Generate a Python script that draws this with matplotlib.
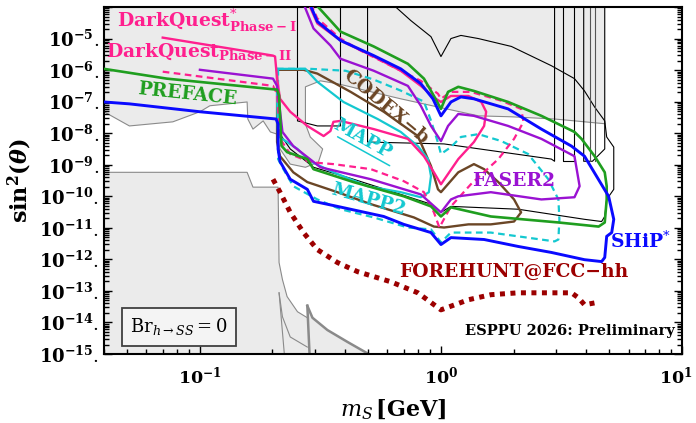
import matplotlib
matplotlib.use('Agg')
import matplotlib.pyplot as plt
import matplotlib.transforms as mtransforms
import numpy as np
from matplotlib.ticker import LogLocator, FuncFormatter, NullFormatter

plt.rcParams['font.family'] = 'DejaVu Serif'
plt.rcParams['mathtext.fontset'] = 'dejavuserif'

# masses in GeV, couplings as log10(sin^2 theta)

# SHiP*
ship_m = [0.040, 0.051, 0.100, 0.207, 0.211, 0.211, 0.215, 0.237, 0.279, 0.296, 0.372, 0.579, 0.701,
          0.909, 1.00, 1.10, 1.51, 2.09, 2.87, 3.94, 4.64, 4.78, 4.87, 5.11, 5.21, 4.96, 3.94, 3.48,
          2.61, 1.90, 1.37, 1.21, 1.10, 1.00, 0.926, 0.825, 0.681, 0.526, 0.383, 0.307, 0.282]
ship_y = [-7.01, -7.07, -7.32, -7.55, -7.71, -8.50, -8.90, -9.46, -9.78, -10.16, -10.32, -10.64, -10.89,
          -11.15, -11.53, -11.31, -11.37, -11.59, -11.78, -12.01, -12.07, -11.94, -11.27, -11.15, -10.73,
          -10.00, -8.73, -8.41, -7.87, -7.23, -6.91, -6.85, -7.01, -7.45, -6.91, -6.43, -5.96, -5.54,
          -5.06, -4.46, -3.80]

# PREFACE
pre_m = [0.040, 0.0729, 0.209, 0.213, 0.218, 0.230, 0.279, 0.296, 0.434, 0.701, 0.909, 1.00, 1.10,
         1.61, 3.07, 4.51, 4.78, 4.87, 4.87, 4.78, 4.34, 3.83, 3.58, 2.61, 1.90, 1.37, 1.18, 1.07,
         1.00, 0.935, 0.850, 0.729, 0.526, 0.383, 0.293]
pre_y = [-5.96, -6.27, -6.62, -6.80, -8.40, -8.60, -8.82, -9.14, -9.55, -10.00, -10.32, -10.64, -10.35,
         -10.64, -10.83, -10.96, -10.83, -10.10, -9.68, -9.24, -8.73, -8.18, -7.96, -7.45, -7.01,
         -6.66, -6.53, -6.69, -7.23, -6.82, -6.27, -5.80, -5.25, -4.78, -3.80]

# FASER2
fas_m = [0.100, 0.201, 0.209, 0.220, 0.244, 0.316, 0.512, 0.825, 1.00, 1.10, 1.18, 1.61, 2.61, 3.58,
         3.76, 3.58, 2.61, 1.90, 1.37, 1.18, 1.07, 1.00, 0.909, 0.825, 0.729, 0.526, 0.383, 0.348,
         0.296, 0.266]
fas_y = [-5.99, -6.27, -6.50, -7.96, -8.41, -9.08, -9.46, -9.94, -10.51, -10.10, -10.00, -9.87, -10.10,
         -10.03, -9.68, -8.73, -8.18, -7.77, -7.45, -7.39, -7.77, -8.25, -7.77, -7.13, -6.50, -6.02,
         -5.64, -5.22, -4.68, -3.80]

# DarkQuest Phase-I (solid)
dq1_m = [0.0701, 0.201, 0.205, 0.209, 0.215, 0.237, 0.279, 0.326, 0.348, 0.358, 0.383, 0.526, 0.729,
         0.850, 0.935, 1.00, 1.18, 1.37, 1.51, 1.54, 1.47, 1.30, 1.10, 1.00, 0.953, 0.825, 0.681,
         0.526, 0.383, 0.307, 0.279]
dq1_y = [-4.97, -5.54, -5.57, -6.27, -6.91, -7.32, -7.77, -8.09, -7.93, -7.64, -7.61, -7.87, -8.18,
         -8.73, -9.24, -9.62, -8.82, -8.28, -7.77, -7.32, -7.01, -6.82, -6.82, -7.01, -6.91, -6.50,
         -6.02, -5.57, -5.06, -4.52, -3.80]

# DarkQuest Phase-II (dashed)
dq2_m = [0.0701, 0.201, 0.209, 0.215, 0.237, 0.287, 0.358, 0.512, 0.701, 0.850, 0.935, 0.985, 1.10,
         1.33, 1.73, 2.01, 2.20, 2.15, 1.78, 1.33, 1.10, 1.00, 0.972, 0.825, 0.464, 0.383, 0.307, 0.285]
dq2_y = [-6.05, -6.50, -6.75, -8.18, -8.66, -8.92, -8.98, -9.14, -9.52, -9.87, -10.51, -10.99, -10.32,
         -9.62, -8.82, -8.18, -7.64, -7.23, -6.97, -6.69, -6.69, -6.91, -6.75, -6.34, -5.38, -5.00,
         -4.36, -3.80]

# MAPP (solid cyan)
mapp_m = [0.209, 0.209, 0.211, 0.230, 0.254, 0.287, 0.358, 0.496, 0.681, 0.825, 0.891, 0.909, 0.883,
          0.802, 0.681, 0.546, 0.394, 0.307, 0.274, 0.209]
mapp_y = [-5.96, -6.91, -8.09, -8.28, -8.50, -8.89, -9.24, -9.68, -9.87, -10.03, -9.87, -9.36, -8.82,
          -8.41, -7.96, -7.55, -7.01, -6.37, -5.96, -5.96]

# MAPP2 (dashed cyan)
mapp2_m = [0.211, 0.211, 0.222, 0.244, 0.307, 0.383, 0.526, 0.729, 0.909, 1.00, 1.10, 1.61, 2.96, 3.07,
           3.10, 3.07, 2.79, 2.30, 1.78, 1.43, 1.21, 1.10, 1.00, 0.972, 0.909, 0.850, 0.681, 0.526,
           0.402, 0.287, 0.211]
mapp2_y = [-5.96, -8.82, -9.14, -9.68, -10.10, -10.41, -10.67, -10.99, -11.05, -11.46, -11.15, -11.15,
           -11.43, -11.37, -10.73, -10.10, -9.46, -8.66, -8.25, -8.03, -8.12, -8.44, -8.66, -8.30,
           -7.60, -7.00, -6.65, -6.30, -6.02, -5.96, -5.96]

# CODEX-b
codex_m = [0.209, 0.269, 0.307, 0.422, 0.579, 0.802, 0.909, 0.972, 1.00, 1.18, 1.37, 1.51, 1.73, 2.01,
           2.15, 2.01, 1.61, 1.30, 1.03, 0.935, 0.772, 0.512, 0.372, 0.279, 0.244, 0.215, 0.209, 0.209]
codex_y = [-5.99, -5.99, -6.11, -6.69, -7.32, -8.09, -9.04, -9.78, -9.87, -9.24, -8.98, -9.14, -9.55,
           -10.10, -10.51, -10.80, -10.89, -10.89, -10.99, -10.96, -10.67, -10.25, -9.87, -9.55, -9.24,
           -8.73, -8.28, -5.99]

# FOREHUNT@FCC-hh
fore_m = [0.201, 0.215, 0.237, 0.269, 0.307, 0.372, 0.451, 0.619, 0.802, 1.00, 1.30, 1.61, 2.09,
          3.48, 3.72, 3.94, 4.34]
fore_y = [-9.46, -9.87, -10.51, -11.15, -11.69, -12.10, -12.39, -12.71, -13.06, -13.60, -13.28,
          -13.12, -13.06, -13.06, -13.22, -13.44, -13.38]

# existing bounds: upper shaded region edge
top_m = [0.040, 0.051, 0.0772, 0.100, 0.110, 0.157, 0.158, 0.166, 0.183, 0.196, 0.209, 0.215, 0.237,
         0.274, 0.310, 0.323, 0.287, 0.274, 0.274, 0.316, 0.372, 0.496, 0.681, 0.972, 1.43, 1.96,
         2.96, 3.48, 4.78]
top_y = [-7.32, -7.77, -7.64, -7.32, -7.13, -7.01, -7.55, -7.87, -7.61, -7.96, -8.03, -8.50, -8.98,
         -9.08, -8.92, -8.50, -8.12, -7.71, -6.53, -6.34, -6.43, -6.66, -6.91, -7.17, -7.45, -7.48,
         -7.55, -7.60, -7.70]

# lower shaded region edge
low_m = [0.040, 0.157, 0.166, 0.211, 0.213, 0.220, 0.230, 0.254, 0.279, 0.279, 0.293, 0.338, 0.410, 0.501]
low_y = [-9.24, -9.24, -9.71, -9.71, -12.10, -12.64, -13.18, -13.66, -13.85, -13.47, -13.85, -14.24,
         -14.62, -15.00]

# thin black outline
env_m = [0.607, 0.750, 0.909, 1.00, 1.10, 1.21, 1.43, 1.96, 2.87, 3.58, 3.94, 4.34, 4.78, 4.87, 5.21,
         5.21, 4.87, 4.78, 4.64, 3.94, 2.09, 1.10, 1.00, 0.909, 0.681, 0.422, 0.296, 0.279, 0.237, 0.215]
env_y = [-3.80, -4.43, -4.94, -5.57, -5.00, -4.90, -5.00, -5.25, -5.86, -6.27, -6.66, -7.17, -7.61,
         -8.12, -8.44, -9.78, -10.10, -10.64, -10.80, -10.73, -10.41, -10.32, -10.51, -10.25, -9.94,
         -9.43, -9.08, -8.92, -8.50, -8.03]

# black boxes (mass edges and bottom)
boxA_m = [0.254, 0.254, 0.307, 0.383, 0.383]
boxA_y = [-3.80, -7.61, -7.77, -7.77, -3.80]
boxB_m = [0.496, 0.496, 1.03, 2.87, 2.96, 2.96]
boxB_y = [-3.80, -8.28, -8.34, -8.82, -8.89, -3.80]
boxC_m = [3.22, 3.22, 3.58, 3.58]
boxC_y = [-3.80, -8.89, -8.89, -3.80]
boxD_m = [3.91, 3.91, 4.25, 4.78, 4.78]
boxD_y = [-3.80, -8.89, -8.89, -8.50, -3.80]
inner_m = [4.14, 4.34]

BLUE = '#0a0aff'
GREEN = '#1f9e1f'
PURPLE = '#9a12d2'
PINK = '#ff1f8e'
CYAN = '#14c8d0'
BROWN = '#6b4626'
DRED = '#9c0000'
GFILL = '#ebebeb'
GLINE = '#8a8a8a'


def p(e):
    return np.power(10.0, np.asarray(e, dtype=float))


fig = plt.figure(figsize=(6.96, 4.23), dpi=100)
ax = fig.add_axes([0.1494, 0.1631, 0.8305, 0.8203])
ax.set_xscale('log')
ax.set_yscale('log')
ax.set_xlim(0.04, 10)
ax.set_ylim(1e-15, 1e-4)

# shaded existing limits
ax.fill(list(top_m) + [top_m[-1], top_m[0]], p(list(top_y) + [-3, -3]),
        color=GFILL, lw=0, zorder=0)
ax.plot(top_m, p(top_y), color=GLINE, lw=0.8, zorder=1)
ax.fill(list(low_m) + [low_m[-1], low_m[0]], p(list(low_y) + [-16, -16]),
        color=GFILL, lw=0, zorder=0)
ax.plot(low_m[:9], p(low_y[:9]), color=GLINE, lw=0.8, zorder=1)
ax.plot(low_m[9:], p(low_y[9:]), color=GLINE, lw=1.8, zorder=1)
ax.plot([low_m[9], 0.285], p([low_y[9], -15]), color=GLINE, lw=1.8, zorder=1)
ax.plot([0.213, 0.224], p([-13.06, -15]), color=GLINE, lw=0.8, zorder=1)
ax.plot([0.213, 0.220, 0.237, 0.279], p([-13.06, -13.82, -14.46, -14.78]), color=GLINE, lw=0.8, zorder=1)

# black outlines
for bm, by in [(boxA_m, boxA_y), (boxB_m, boxB_y), (boxC_m, boxC_y), (boxD_m, boxD_y), (env_m, env_y)]:
    ax.plot(bm, p(by), color='black', lw=0.8, zorder=2)
for im in inner_m:
    ax.plot([im, im], p([-3.8, -8.89]), color='#555555', lw=0.8, zorder=2)

# projections
ax.plot(fore_m, p(fore_y), color=DRED, lw=3.6, dashes=(1, 1.1), dash_capstyle='butt', zorder=3)
ax.plot(codex_m, p(codex_y), color=BROWN, lw=1.7, zorder=4)
ax.plot(mapp2_m, p(mapp2_y), color=CYAN, lw=1.6, dashes=(3, 2), zorder=4)
ax.plot(mapp_m, p(mapp_y), color=CYAN, lw=1.6, zorder=4)
ax.plot(dq2_m, p(dq2_y), color=PINK, lw=1.6, dashes=(3, 2), zorder=4)
ax.plot(dq1_m, p(dq1_y), color=PINK, lw=1.7, zorder=5)
ax.plot(fas_m, p(fas_y), color=PURPLE, lw=1.7, zorder=5)
ax.plot(pre_m, p(pre_y), color=GREEN, lw=1.9, zorder=5)
ax.plot(ship_m, p(ship_y), color=BLUE, lw=2.1, zorder=6)

# labels on the curves
fs = 13.5
ax.text(0.0455, p(-4.62), r'$\mathbf{DarkQuest}^{*}_{\mathbf{Phase-I}}$', color=PINK, fontsize=fs,
        ha='left', va='baseline', zorder=7)
ax.text(0.0406, p(-5.57), r'$\mathbf{DarkQuest}_{\mathbf{Phase-II}}$', color=PINK, fontsize=fs,
        ha='left', va='baseline', zorder=7)
ax.text(0.0883, p(-6.75), 'PREFACE', color=GREEN, fontsize=fs, fontweight='bold', rotation=-6,
        ha='center', va='center', rotation_mode='anchor', zorder=7)
ax.text(0.590, p(-7.17), 'CODEX\u2212b', color=BROWN, fontsize=fs, fontweight='bold', rotation=-40,
        ha='center', va='center', rotation_mode='anchor', zorder=7)

mapp_xy = (0.473, p(-8.18))
ax.text(*mapp_xy, 'MAPP', color=CYAN, fontsize=fs, fontweight='bold', rotation=-29,
        ha='center', va='center', rotation_mode='anchor', zorder=7)
# underline of the MAPP label, in points relative to the label centre
ax.annotate('', xy=mapp_xy, xycoords=mtransforms.offset_copy(ax.transData, fig, x=-18.0, y=1.5, units='points'),
            xytext=mapp_xy, textcoords=mtransforms.offset_copy(ax.transData, fig, x=19.5, y=-19.3, units='points'),
            arrowprops=dict(arrowstyle='-', color=CYAN, lw=1.1, shrinkA=0, shrinkB=0), zorder=7)

ax.text(0.501, p(-10.10), 'MAPP2', color=CYAN, fontsize=fs, fontweight='bold', rotation=-16,
        ha='center', va='center', rotation_mode='anchor', zorder=7)
ax.text(2.01, p(-9.52), 'FASER2', color=PURPLE, fontsize=fs, fontweight='bold',
        ha='center', va='center', zorder=7)
ax.text(6.75, p(-11.43), r'$\mathbf{SHiP}^{*}$', color=BLUE, fontsize=fs,
        ha='center', va='center', zorder=7)
ax.text(2.01, p(-12.39), 'FOREHUNT@FCC\u2212hh', color=DRED, fontsize=fs, fontweight='bold',
        ha='center', va='center', zorder=7)
ax.text(9.35, p(-14.27), 'ESPPU 2026: Preliminary', color='black', fontsize=10.5, fontweight='bold',
        ha='right', va='center', zorder=7)
ax.text(0.13, 0.078, r'$\mathrm{Br}_{h\rightarrow SS}=0$', transform=ax.transAxes, fontsize=13,
        ha='center', va='center', zorder=8,
        bbox=dict(boxstyle='square,pad=0.45', facecolor='#f4f4f4', edgecolor='#404040', lw=1.3))

# axes styling
ax.yaxis.set_major_locator(LogLocator(base=10, subs=(1.0,), numticks=30))
ax.yaxis.set_minor_locator(LogLocator(base=10, subs=np.arange(2, 10), numticks=30))
ax.yaxis.set_major_formatter(FuncFormatter(
    lambda v, pos: (r'$\mathbf{10^{%d}}$.' % round(np.log10(v))) if v < 5e-5 else ''))
ax.yaxis.set_minor_formatter(NullFormatter())
ax.xaxis.set_major_locator(LogLocator(base=10, subs=(1.0,), numticks=10))
ax.xaxis.set_minor_locator(LogLocator(base=10, subs=np.arange(2, 10), numticks=10))
ax.xaxis.set_major_formatter(FuncFormatter(lambda v, pos: r'$\mathbf{10^{%d}}$' % round(np.log10(v))))
ax.xaxis.set_minor_formatter(NullFormatter())
ax.tick_params(which='both', direction='in', top=False, right=True, width=1.0)
ax.tick_params(axis='y', labelsize=13)
ax.tick_params(axis='x', labelsize=12.5, pad=8)
ax.tick_params(which='major', length=6)
ax.tick_params(which='minor', length=3.5)
for s in ax.spines.values():
    s.set_linewidth(1.5)

ax.set_xlabel(r'$m_S\,\mathbf{[GeV]}$', fontsize=16, labelpad=8)
ax.set_ylabel(r'$\mathbf{sin}^{\mathbf{2}}\mathbf{(}\boldsymbol{\theta}\mathbf{)}$', fontsize=16, labelpad=4)

# the 10^1 label sits at the figure edge; nudge it left so it stays whole
fig.canvas.draw()
shift = mtransforms.ScaledTranslation(-0.06, 0, fig.dpi_scale_trans)
for tick in ax.xaxis.get_major_ticks():
    loc = tick.get_loc()
    if loc is not None and abs(loc - 10) < 1e-6:
        tick.label1.set_transform(tick.label1.get_transform() + shift)

plt.savefig('out.png', dpi=100)
plt.close()
